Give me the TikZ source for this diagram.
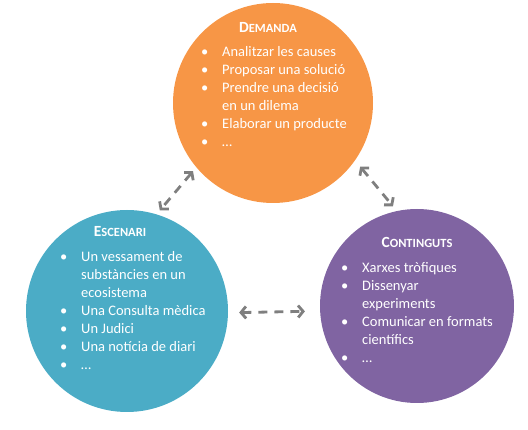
\documentclass[tikz,border=0pt]{standalone}
\usepackage{fontspec}
\setmainfont{Carlito}
\usepackage{xcolor}
\usetikzlibrary{arrows.meta}

\definecolor{demcol}{HTML}{F79646}
\definecolor{esccol}{HTML}{4BACC6}
\definecolor{concol}{HTML}{8064A2}
\definecolor{arrcol}{HTML}{7F7F7F}

\newcommand{\bul}{\textbullet}
\newcommand{\titol}[2]{\textbf{\fontsize{15.5}{17}\selectfont #1\fontsize{12.5}{14}\selectfont #2}}

\begin{document}
\begin{tikzpicture}[x=1pt, y=-1pt,
    blob/.style={circle, draw=none, inner sep=0pt},
    head/.style={anchor=base, text=white, inner sep=0pt},
    items/.style={anchor=base west, text=white, inner sep=0pt,
                  font=\fontsize{14.5}{18}\selectfont},
    link/.style={{Straight Barb[length=5pt,width=12pt]}-{Straight Barb[length=5pt,width=12pt]},
                 draw=arrcol, line width=2.8pt, dash pattern=on 9pt off 7pt}]
  \useasboundingbox (0,0) rectangle (528,430);
  % the three circles
  \node[blob, fill=demcol, minimum size=200pt] (dem) at (273,103) {};
  \node[blob, fill=esccol, minimum size=202pt] (esc) at (127,311) {};
  \node[blob, fill=concol, minimum size=194pt] (con) at (417,306) {};
  % titles
  \node[head] (demT) at (268,33)  {\titol{D}{EMANDA}};
  \node[head] (escT) at (120,237) {\titol{E}{SCENARI}};
  \node[head] (conT) at (417,248) {\titol{C}{ONTINGUTS}};
  % lists
  \node[items] (demL) at (201,57) {\begin{tabular}[t]{@{}p{21pt}@{}l@{}}
    \bul & Analitzar les causes\\
    \bul & Proposar una solució\\
    \bul & Prendre una decisió\\
         & en un dilema\\
    \bul & Elaborar un producte\\
    \bul & \dots
  \end{tabular}};
  \node[items] (escL) at (60,262) {\begin{tabular}[t]{@{}p{21pt}@{}l@{}}
    \bul & Un vessament de\\
         & substàncies en un\\
         & ecosistema\\
    \bul & Una Consulta mèdica\\
    \bul & Un Judici\\
    \bul & Una notícia de diari\\
    \bul & \dots
  \end{tabular}};
  \node[items] (conL) at (341,273) {\begin{tabular}[t]{@{}p{21pt}@{}l@{}}
    \bul & Xarxes tròfiques\\
    \bul & Dissenyar\\
         & experiments\\
    \bul & Comunicar en formats\\
         & científics\\
    \bul & \dots
  \end{tabular}};
  % dashed links
  \draw[link, shorten <=5pt, shorten >=5pt] (dem.220) -- (esc.73);
  \draw[link, shorten <=8pt, shorten >=6pt] (dem.325) -- (con.102);
  \draw[link, shorten <=11pt, shorten >=15pt] (esc.359) -- (con.183);
\end{tikzpicture}
\end{document}
